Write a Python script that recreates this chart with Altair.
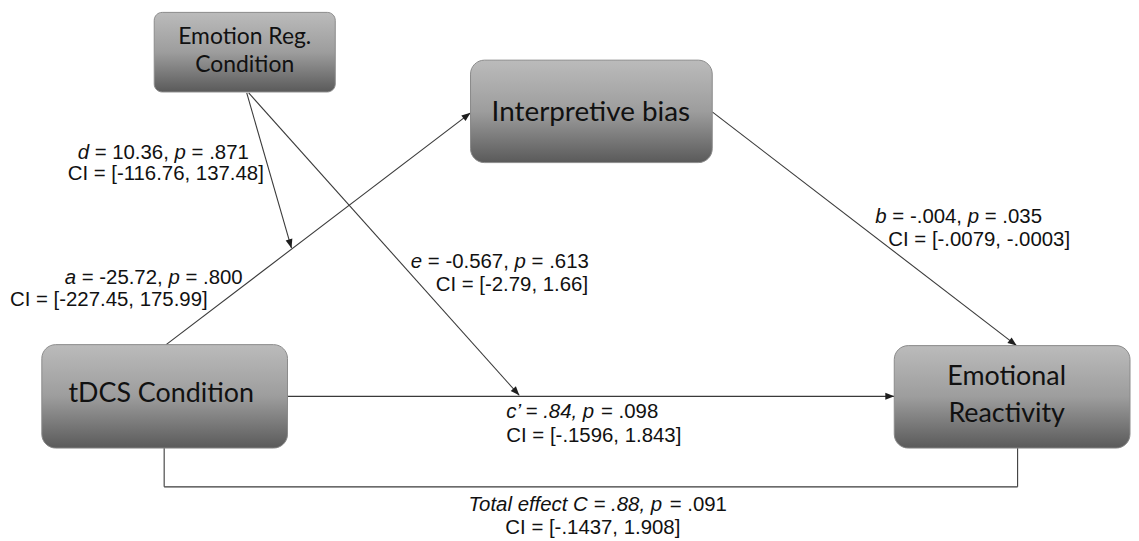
import math
import altair as alt
import pandas as pd

# ---------------- chart content ----------------
node_lines = [["Emotion Reg.", "Condition"], ["Interpretive bias"], ["tDCS Condition"], ["Emotional", "Reactivity"]]
path_names = ["d", "a", "e", "b", "c\u2019", "Total effect C"]
coefs = ["10.36", "-25.72", "-0.567", "-.004", ".84", ".88"]
p_values = [".871", ".800", ".613", ".035", ".098", ".091"]
ci_lower = ["-116.76", "-227.45", "-2.79", "-.0079", "-.1596", "-.1437"]
ci_upper = ["137.48", "175.99", "1.66", "-.0003", "1.843", "1.908"]

# ---------------- layout (reference pixel space, y downward) ----------------
box_rects = [(155, 11, 337, 91), (473, 59, 716, 162), (42, 345, 289, 449), (899, 346, 1136, 449)]
box_small = [True, False, False, False]
node_text_x = [246, 594, 162, 1012]
node_text_y = [[36, 64], [112], [395], [378, 415]]
node_font = [23, 28, 27, 27]

edges = [  # x1, y1, x2, y2, arrow
    (248, 92, 293, 248, True),    # d
    (167, 345, 473, 112, True),   # a
    (250, 92, 522, 396, True),    # e
    (716, 111, 1022, 346, True),  # b
    (289, 397, 899, 397, True),   # c'
    (165, 449, 165, 488, False),  # total effect bracket
    (165, 488, 1023, 488, False),
    (1023, 488, 1023, 449, False),
]
label_pos = [  # left x / y of line 1, left x / y of line 2
    (78, 152, 68, 173),
    (65, 278, 10, 300),
    (413, 262, 438, 285),
    (880, 217, 893, 240),
    (509, 413, 509, 437),
    (471, 506, 508, 529),
]
LABEL_SIZE = 20.5

ARIAL = {' ': 278, '=': 584, '-': 333, '.': 278, ',': 278, '[': 278, ']': 278,
         'C': 722, 'I': 278, 'T': 611, 'a': 556, 'b': 556, 'c': 500, 'd': 556,
         'e': 556, 'f': 278, 'l': 222, 'o': 556, 'p': 556, 't': 278, '\u2019': 222}


def tw(s, size=LABEL_SIZE):
    return sum(ARIAL.get(ch, 556) for ch in s) * size / 1000.0


# ---------------- tables ----------------
boxes = pd.DataFrame([dict(x1=r[0], y1=r[1], x2=r[2], y2=r[3], small=s) for r, s in zip(box_rects, box_small)])

node_rows = []
for lines, tx, tys, fs in zip(node_lines, node_text_x, node_text_y, node_font):
    for ln, ty in zip(lines, tys):
        node_rows.append(dict(x=tx, y=ty, text=ln, fs=fs))
node_df = pd.DataFrame(node_rows)

edge_df = pd.DataFrame([dict(x1=e[0], y1=e[1], x2=e[2], y2=e[3]) for e in edges])
arrow_df = pd.DataFrame([
    dict(x=e[2], y=e[3], angle=math.degrees(math.atan2(e[2] - e[0], -(e[3] - e[1]))) % 360)
    for e in edges if e[4]
])

seg_rows = []
for i, name in enumerate(path_names):
    if len(name) == 1:
        line1 = [(name, True), (f" = {coefs[i]}, ", False), ("p", True), (f" = {p_values[i]}", False)]
    else:
        line1 = [(f"{name} = {coefs[i]}, p", True), (f" = {p_values[i]}", False)]
    line2 = [(f"CI = [{ci_lower[i]}, {ci_upper[i]}]", False)]
    lx1, ly1, lx2, ly2 = label_pos[i]
    for segs, lx, ly in ((line1, lx1, ly1), (line2, lx2, ly2)):
        x = lx
        for txt, it in segs:
            lead = len(txt) - len(txt.lstrip(" "))
            seg_rows.append(dict(x=x + tw(" " * lead), y=ly, text=txt.strip(), italic=it))
            x += tw(txt)
seg_df = pd.DataFrame(seg_rows)

# ---------------- scales ----------------
xs = alt.Scale(domain=[8, 1131], nice=False, zero=False)
ys = alt.Scale(domain=[533, 8], nice=False, zero=False)


def X(f):
    return alt.X(f"{f}:Q", scale=xs, axis=None)


def Y(f):
    return alt.Y(f"{f}:Q", scale=ys, axis=None)


grad = alt.Gradient(
    gradient="linear",
    stops=[alt.GradientStop(color="#bbbbbb", offset=0),
           alt.GradientStop(color="#9d9d9d", offset=0.5),
           alt.GradientStop(color="#5a5a5a", offset=1)],
    x1=0, x2=0, y1=0, y2=1,
)

rect_small = alt.Chart(boxes).transform_filter("datum.small").mark_rect(
    fill=grad, stroke="#8a8a8a", strokeWidth=1, cornerRadius=8
).encode(x=X("x1"), x2="x2:Q", y=Y("y1"), y2="y2:Q")

rect_big = alt.Chart(boxes).transform_filter("!datum.small").mark_rect(
    fill=grad, stroke="#8a8a8a", strokeWidth=1, cornerRadius=14
).encode(x=X("x1"), x2="x2:Q", y=Y("y1"), y2="y2:Q")

node_text = alt.Chart(node_df).mark_text(
    font="Lato", align="center", baseline="middle", color="#111111"
).encode(x=X("x"), y=Y("y"), text="text:N", size=alt.Size("fs:Q", scale=None, legend=None))

rules = alt.Chart(edge_df).mark_rule(color="#3a3a3a", strokeWidth=1.1).encode(
    x=X("x1"), x2="x2:Q", y=Y("y1"), y2="y2:Q"
)

arrows = alt.Chart(arrow_df).mark_point(
    shape="M0,0L-0.7,1.8L0.7,1.8Z", filled=True, size=100, color="#1e1e1e", opacity=1, strokeWidth=0
).encode(x=X("x"), y=Y("y"), angle=alt.Angle("angle:Q", scale=None))

lab_norm = alt.Chart(seg_df).transform_filter("!datum.italic").mark_text(
    font="Liberation Sans", fontSize=LABEL_SIZE, align="left", baseline="middle", color="#111111"
).encode(x=X("x"), y=Y("y"), text="text:N")

lab_ital = alt.Chart(seg_df).transform_filter("datum.italic").mark_text(
    font="Liberation Sans", fontSize=LABEL_SIZE, fontStyle="italic", align="left", baseline="middle", color="#111111"
).encode(x=X("x"), y=Y("y"), text="text:N")

chart = alt.layer(rules, arrows, rect_small, rect_big, node_text, lab_norm, lab_ital).properties(
    width=1123, height=525,
    padding={"left": 0, "top": 0, "right": 6, "bottom": 8},
    autosize=alt.AutoSizeParams(type="none"),
    background="white",
).configure_view(stroke=None)

chart.save("out.html", embed_options={"renderer": "svg", "actions": False})
